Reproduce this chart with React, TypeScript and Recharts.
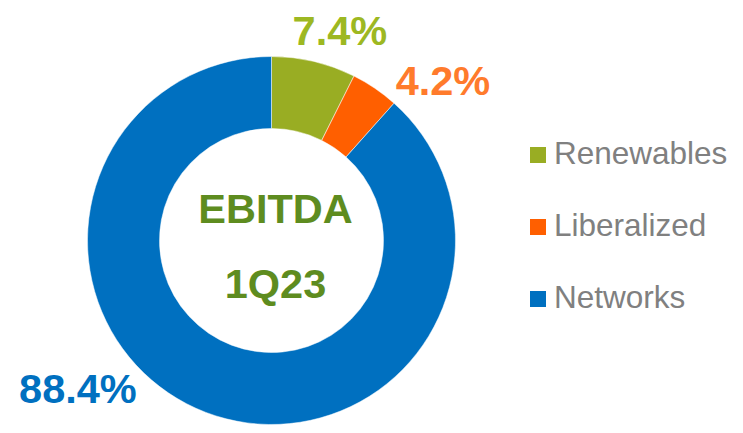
import React from "react";
import { PieChart, Pie, Cell, Legend } from "recharts";

const categories = ["Renewables", "Liberalized", "Networks"];
const shares = [7.4, 4.2, 88.4];
const labels = ["7.4%", "4.2%", "88.4%"];
const centerLines = ["EBITDA", "1Q23"];

const sliceColors = ["#99AD23", "#FF5F00", "#0070C0"];
const labelColors = ["#9DB822", "#FF7B2C", "#0070C0"];
const labelOffsets = [
  { dx: 26, dy: -16 },
  { dx: 68, dy: 7 },
  { dx: -128, dy: -9 },
];

const data = categories.map((name, i) => ({ name, value: shares[i] }));
const FONT = "'Liberation Sans', Arial, sans-serif";
const RAD = Math.PI / 180;

const renderLabel = (props: any) => {
  const { cx, cy, midAngle, outerRadius, index } = props;
  const px = cx + outerRadius * Math.cos(-midAngle * RAD);
  const py = cy + outerRadius * Math.sin(-midAngle * RAD);
  const o = labelOffsets[index];
  return (
    <g>
      <text
        x={px + o.dx}
        y={py + o.dy}
        textAnchor="middle"
        fill={labelColors[index]}
        fontFamily={FONT}
        fontWeight="bold"
        fontSize={41.5}
      >
        {labels[index]}
      </text>
      {index === 0 ? (
        <g>
          <text x={cx + 4} y={cy - 18} textAnchor="middle" fill="#5E8C1F" fontFamily={FONT} fontWeight="bold" fontSize={41.5}>
            {centerLines[0]}
          </text>
          <text x={cx + 4} y={cy + 57} textAnchor="middle" fill="#5E8C1F" fontFamily={FONT} fontWeight="bold" fontSize={41.5}>
            {centerLines[1]}
          </text>
        </g>
      ) : null}
    </g>
  );
};

const renderLegend = () => (
  <div style={{ fontFamily: FONT }}>
    {categories.map((c, i) => (
      <div
        key={c}
        style={{ display: "flex", alignItems: "center", height: 72, whiteSpace: "nowrap" }}
      >
        <div style={{ width: 16, height: 16, background: sliceColors[i], marginRight: 8, marginTop: 4 }} />
        <span style={{ fontSize: 31.5, color: "#808080" }}>{c}</span>
      </div>
    ))}
  </div>
);

export default function App() {
  return (
    <div style={{ position: "absolute", left: 0, top: 0, width: 743, height: 433, background: "#fff" }}>
      <PieChart width={743} height={433} margin={{ top: 0, right: 0, bottom: 0, left: 0 }}>
        <Pie
          data={data}
          dataKey="value"
          nameKey="name"
          cx={271.5}
          cy={240.5}
          innerRadius={112}
          outerRadius={184}
          startAngle={90}
          endAngle={-270}
          stroke="#ffffff"
          strokeWidth={0.5}
          label={renderLabel}
          labelLine={false}
          isAnimationActive={false}
        >
          {data.map((d, i) => (
            <Cell key={d.name} fill={sliceColors[i]} />
          ))}
        </Pie>
        <Legend
          layout="vertical"
          content={renderLegend}
          wrapperStyle={{ position: "absolute", left: 530, top: 117, width: 213 }}
        />
      </PieChart>
    </div>
  );
}
